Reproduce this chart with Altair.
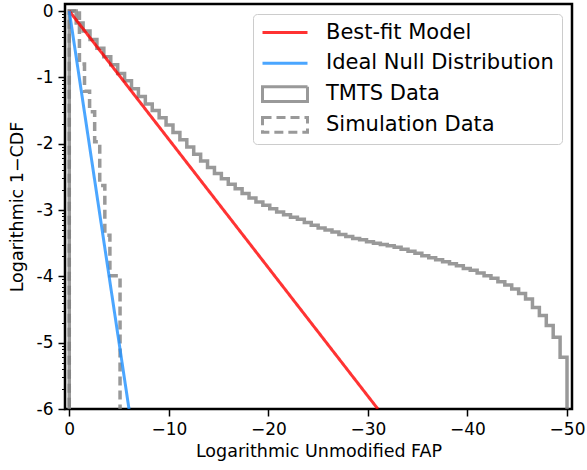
import altair as alt
import pandas as pd
import numpy as np

# ---------------- data ----------------
series_names = ["Best-fit Model", "Ideal Null Distribution", "TMTS Data", "Simulation Data"]
series_colors = ["#ff0000", "#1e90ff", "#808080", "#808080"]

# straight model lines (x = log FAP, y = log10(1-CDF))
fit_x = [0.0, -31.0]
fit_y = [0.0, -6.0]
ideal_x = [0.0, -6.0]
ideal_y = [0.0, -6.0]

# TMTS cumulative step histogram: bin range and level of each bin
tmts_range = [0.0, -50.0]
tmts_levels = [0.0, -0.18, -0.30, -0.43, -0.56, -0.69, -0.81, -0.94, -1.05, -1.17,
               -1.29, -1.40, -1.50, -1.61, -1.72, -1.83, -1.94, -2.05, -2.16, -2.26,
               -2.36, -2.45, -2.53, -2.61, -2.68, -2.75, -2.82, -2.88, -2.93, -2.98,
               -3.03, -3.07, -3.11, -3.14, -3.19, -3.23, -3.27, -3.30, -3.33, -3.37,
               -3.40, -3.43, -3.45, -3.48, -3.50, -3.52, -3.54, -3.56, -3.59, -3.62,
               -3.65, -3.69, -3.72, -3.75, -3.78, -3.81, -3.84, -3.88, -3.91, -3.95,
               -3.99, -4.03, -4.08, -4.13, -4.19, -4.26, -4.34, -4.47, -4.59, -4.74,
               -4.92, -5.22]

# simulation cumulative step histogram
sim_range = [0.0, -5.1]
sim_levels = [0.0, -0.03, -0.80, -1.21, -1.52, -1.97, -2.63, -3.38, -3.99, -3.99]

x_ticks = [0, -10, -20, -30, -40, -50]
y_major = [0, -1, -2, -3, -4, -5, -6]
y_minor = [float(-n + np.log10(m)) for n in range(1, 7) for m in range(2, 10)]

FLOOR = -6.6  # log of zero counts falls below the axis


def step_frame(levels, rng, name):
    n = len(levels)
    edges = [rng[0] + (rng[1] - rng[0]) * k / n for k in range(n + 1)]
    xs, ys = [edges[0]], [FLOOR]
    for k, lv in enumerate(levels):
        xs += [edges[k], edges[k + 1]]
        ys += [lv, lv]
    xs.append(edges[-1])
    ys.append(FLOOR)
    return pd.DataFrame({"x": xs, "y": ys, "i": list(range(len(xs))), "series": name})


tmts_df = step_frame(tmts_levels, tmts_range, "TMTS Data")
sim_df = step_frame(sim_levels, sim_range, "Simulation Data")
fit_df = pd.DataFrame({"x": fit_x, "y": fit_y, "i": [0, 1], "series": "Best-fit Model"})
ideal_df = pd.DataFrame({"x": ideal_x, "y": ideal_y, "i": [0, 1], "series": "Ideal Null Distribution"})
legend_df = pd.DataFrame({"x": [0.0] * 4, "y": [0.0] * 4, "series": series_names})

# ---------------- encodings ----------------
major_test = "abs(datum.value - round(datum.value)) < 0.001"

x_enc = alt.X("x:Q",
              scale=alt.Scale(domain=[0.43, -50.5], nice=False, zero=False),
              axis=alt.Axis(values=x_ticks, title="Logarithmic Unmodified FAP",
                            tickSize=7, tickWidth=1.5, labelPadding=5, titlePadding=5,
                            labelFlush=False, labelOverlap=False))
y_enc = alt.Y("y:Q",
              scale=alt.Scale(domain=[-6.0, 0.106], nice=False, zero=False),
              axis=alt.Axis(values=y_major + y_minor, title="Logarithmic 1\u2212CDF",
                            labelExpr=f"{major_test} ? (datum.value == 0 ? '0' : '-' + format(-datum.value, 'd')) : ''",
                            tickSize={"condition": {"test": major_test, "value": 7}, "value": 3.5},
                            tickWidth={"condition": {"test": major_test, "value": 1.5}, "value": 1},
                            labelPadding=5, titlePadding=10,
                            labelFlush=False, labelOverlap=False))

color_scale = alt.Scale(domain=series_names, range=series_colors)
dash_scale = alt.Scale(domain=series_names, range=[[1, 0], [1, 0], [1, 0], [9, 5]])
shape_scale = alt.Scale(domain=series_names,
                        range=["M-1,0H1", "M-1,0H1",
                               "M-1,-0.33H1V0.33H-1Z", "M-1,-0.33H1V0.33H-1Z"])

legend = alt.Legend(title=None, orient="top-right", offset=10,
                    labelFont="DejaVu Sans", labelFontSize=21, labelColor="black",
                    labelLimit=400, symbolSize=2025, symbolStrokeWidth=3,
                    symbolFillColor="transparent", symbolOpacity=0.8,
                    clipHeight=21, labelOffset=17, rowPadding=8.8, padding=8,
                    fillColor="rgba(255,255,255,0.8)", strokeColor="#cccccc",
                    cornerRadius=4)


def line_layer(df, width):
    return alt.Chart(df).mark_line(strokeWidth=width, opacity=0.8, clip=True,
                                   strokeJoin="miter").encode(
        x=x_enc, y=y_enc,
        order=alt.Order("i:Q"),
        color=alt.Color("series:N", scale=color_scale, legend=legend),
        strokeDash=alt.StrokeDash("series:N", scale=dash_scale, legend=legend),
    )


tmts_layer = line_layer(tmts_df, 3.5)
sim_layer = line_layer(sim_df, 3.5)
fit_layer = line_layer(fit_df, 3)
ideal_layer = line_layer(ideal_df, 3)

legend_layer = alt.Chart(legend_df).mark_point(filled=False, opacity=0.8).encode(
    x=x_enc, y=y_enc,
    color=alt.Color("series:N", scale=color_scale, legend=legend),
    shape=alt.Shape("series:N", scale=shape_scale, legend=legend),
    strokeDash=alt.StrokeDash("series:N", scale=dash_scale, legend=legend),
).transform_filter("false")

chart = alt.layer(legend_layer, tmts_layer, sim_layer, fit_layer, ideal_layer).properties(
    width=507, height=405,
    autosize=alt.AutoSizeParams(type="none"),
    padding={"left": 65, "top": 4, "right": 15, "bottom": 61},
).configure_view(
    stroke="black", strokeWidth=2.5
).configure_axis(
    domain=False, grid=False,
    labelFont="DejaVu Sans", titleFont="DejaVu Sans",
    labelFontSize=17, titleFontSize=17.5, titleFontWeight="normal",
    labelColor="black", titleColor="black", tickColor="black",
)

chart.save("out.html", embed_options={"renderer": "svg", "actions": False})
